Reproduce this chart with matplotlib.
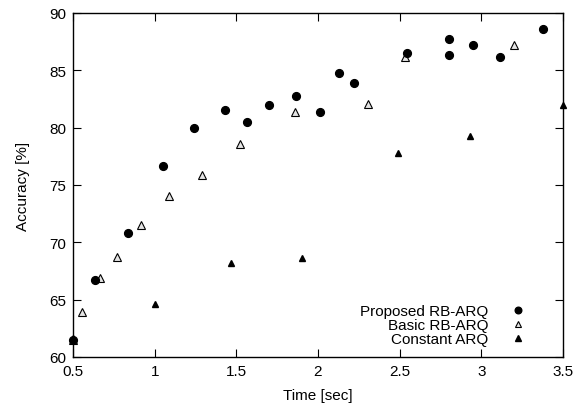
import matplotlib
matplotlib.use('Agg')
import matplotlib.pyplot as plt

plt.rcParams['font.family'] = ['Liberation Sans', 'DejaVu Sans']

# Proposed RB-ARQ
prop_x = [0.5, 0.635, 0.837, 1.05, 1.24, 1.43, 1.565, 1.70, 1.865, 2.01, 2.13, 2.22,
          2.545, 2.80, 2.80, 2.95, 3.115, 3.38]
prop_y = [61.5, 66.7, 70.8, 76.7, 80.0, 81.5, 80.5, 82.0, 82.8, 81.4, 84.8, 83.9,
          86.5, 87.7, 86.3, 87.2, 86.2, 88.6]

# Basic RB-ARQ
basic_x = [0.5, 0.555, 0.665, 0.77, 0.916, 1.088, 1.29, 1.52, 1.86, 2.305, 2.53, 3.20]
basic_y = [61.5, 63.9, 66.9, 68.7, 71.5, 74.0, 75.9, 78.6, 81.4, 82.1, 86.2, 87.2]

# Constant ARQ
const_x = [0.5, 1.0, 1.47, 1.90, 2.49, 2.93, 3.50]
const_y = [61.7, 64.6, 68.2, 68.6, 77.8, 79.3, 82.0]

fig = plt.figure(figsize=(5.79, 4.14), dpi=100)
ax = fig.add_axes([73/579, 1 - 358/414, (563-73)/579, (358-14)/414])

ax.plot(const_x, const_y, linestyle='none', marker='^', markersize=5,
        color='black', label='Constant ARQ', clip_on=False, zorder=3)
ax.plot(basic_x, basic_y, linestyle='none', marker='^', markersize=5.5,
        markerfacecolor='#e4e4e4', markeredgecolor='black', markeredgewidth=0.8,
        label='Basic RB-ARQ', clip_on=False, zorder=4)
ax.plot(prop_x, prop_y, linestyle='none', marker='o', markersize=5.6,
        color='black', label='Proposed RB-ARQ', clip_on=False, zorder=5)

ax.set_xlim(0.5, 3.5)
ax.set_ylim(60, 90)
ax.set_xticks([0.5, 1, 1.5, 2, 2.5, 3, 3.5])
ax.set_xticklabels(['0.5', '1', '1.5', '2', '2.5', '3', '3.5'])
ax.set_yticks([60, 65, 70, 75, 80, 85, 90])
ax.tick_params(direction='in', top=True, right=True, length=6, width=0.8,
               labelsize=11, pad=5)
for s in ax.spines.values():
    s.set_linewidth(1.0)

ax.set_xlabel('Time [sec]', fontsize=11, labelpad=7)
ax.set_ylabel('Accuracy [%]', fontsize=11, labelpad=14)

h, l = ax.get_legend_handles_labels()
ax.legend(h[::-1], l[::-1], loc='lower right', frameon=False, markerfirst=False,
          fontsize=11, handletextpad=1.4, labelspacing=0.0,
          borderaxespad=0.3, bbox_to_anchor=(0.945, 0.0), handlelength=1.0,
          markerscale=0.85)

fig.savefig('out.png', dpi=100)
